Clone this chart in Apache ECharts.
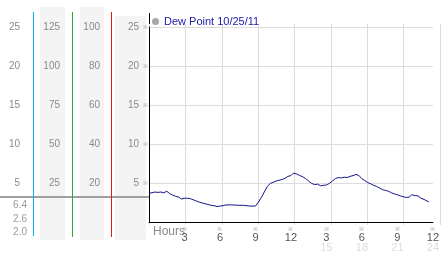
<!DOCTYPE html>
<html><head><meta charset="utf-8">
<script src="https://cdn.jsdelivr.net/npm/echarts@6/dist/echarts.min.js"></script>
<style>html,body{margin:0;padding:0;background:#fff}#c{width:442px;height:253px}</style>
</head><body><div id="c"></div>
<script>
// ---- data ----
const seriesName = 'Dew Point 10/25/11';
const hours = [0,0.25,0.5,0.75,1,1.25,1.5,1.75,2,2.25,2.5,2.75,2.85,3,3.25,3.5,3.75,4,4.25,4.5,4.75,5,5.25,5.5,5.75,6,6.1,6.25,6.5,7,7.5,8,8.5,9,9.25,9.5,9.75,10,10.25,10.5,10.75,11,11.25,11.5,11.75,11.9,12,12.2,12.5,12.75,13,13.25,13.4,13.5,13.75,13.9,14,14.25,14.5,14.75,15,15.25,15.5,15.75,16,16.25,16.5,16.75,17,17.25,17.5,17.75,18,18.25,18.5,18.75,19,19.25,19.5,19.75,20,20.25,20.5,20.75,21,21.25,21.5,21.75,22,22.2,22.5,22.75,23,23.25,23.5,23.65];
const dewPoint = [3.75,3.8,3.9,3.85,3.9,3.8,4.0,3.7,3.5,3.35,3.25,3.0,3.2,3.1,3.1,3.05,2.9,2.75,2.6,2.5,2.4,2.3,2.2,2.15,2.05,2.1,1.95,2.15,2.25,2.25,2.2,2.2,2.1,2.1,2.6,3.2,3.9,4.6,5.0,5.15,5.3,5.4,5.5,5.65,5.9,6.1,6.0,6.3,6.2,6.0,5.85,5.6,5.75,5.3,5.0,5.1,4.85,4.9,4.7,4.75,4.8,5.0,5.3,5.6,5.75,5.7,5.8,5.75,5.9,6.0,6.15,6.0,5.6,5.35,5.1,4.95,4.75,4.6,4.4,4.2,4.1,4.0,3.8,3.65,3.55,3.4,3.3,3.2,3.25,3.55,3.45,3.4,3.1,2.95,2.75,2.65];
const hourTopLabels = ['3','6','9','12','3','6','9','12'];
const hourLowLabels = ['15','18','21','24'];
const extraLeftLabels = ['6.4','2.6','2.0'];

const FONT = "'Liberation Sans', Arial, sans-serif";
const chart = echarts.init(document.getElementById('c'), null, {renderer:'canvas'});

const G = {left:149, right:2, top:27, bottom:28};

function colAxis(max, interval, offset, margin){
  return {
    type:'value', gridIndex:0, position:'left', offset:offset,
    min:0, max:max, interval:interval,
    axisLine:{show:false}, axisTick:{show:false}, splitLine:{show:false},
    axisLabel:{showMinLabel:false, margin:margin, color:'#8a8a8a', fontFamily:FONT, fontSize:10}
  };
}

const option = {
  animation:false,
  backgroundColor:'#fff',
  graphic:[
    {type:'rect', shape:{x:40,y:7,width:25,height:233}, style:{fill:'#f4f4f4'}, z:-10},
    {type:'rect', shape:{x:80,y:7,width:24,height:233}, style:{fill:'#f4f4f4'}, z:-10},
    {type:'rect', shape:{x:115,y:16,width:31,height:224}, style:{fill:'#f4f4f4'}, z:-10},
    {type:'rect', shape:{x:33,y:12,width:1,height:224}, style:{fill:'#00b8e6'}, z:5},
    {type:'rect', shape:{x:72,y:12,width:1,height:225}, style:{fill:'#2ea82e'}, z:5},
    {type:'rect', shape:{x:111,y:12,width:1,height:225}, style:{fill:'#e01818'}, z:5},
    {type:'rect', shape:{x:0,y:196,width:149,height:2}, style:{fill:'#a0a0a0'}, z:4},
    {type:'rect', shape:{x:149,y:13,width:1,height:14}, style:{fill:'#000'}},
    {type:'text', x:27, y:205, style:{text:extraLeftLabels[0], fill:'#9a9a9a', font:'10px '+FONT, align:'right', verticalAlign:'middle'}},
    {type:'text', x:27, y:219, style:{text:extraLeftLabels[1], fill:'#9a9a9a', font:'10px '+FONT, align:'right', verticalAlign:'middle'}},
    {type:'text', x:27, y:232, style:{text:extraLeftLabels[2], fill:'#9a9a9a', font:'10px '+FONT, align:'right', verticalAlign:'middle'}},
    {type:'text', x:153, y:232, style:{text:'Hours', fill:'#8a8a8a', font:'12px '+FONT, align:'left', verticalAlign:'middle'}}
  ],
  legend:{
    left:152, top:16, padding:0, itemWidth:7, itemHeight:7, icon:'circle',
    data:[{name:seriesName, itemStyle:{color:'#a8a8a8'}}],
    textStyle:{color:'#1a1aa8', fontFamily:FONT, fontSize:11}
  },
  grid:[
    {left:G.left, right:G.right, top:G.top, bottom:G.bottom},
    {left:G.left, right:G.right, top:24, bottom:G.bottom}
  ],
  xAxis:[
    {type:'value', gridIndex:0, min:0, max:24, interval:3,
     axisLine:{show:true, lineStyle:{color:'#000', width:1}},
     axisTick:{show:false}, splitLine:{show:false},
     axisLabel:{margin:4, fontFamily:FONT,
       formatter:function(v){
         if(v===0) return '';
         const i = Math.round(v/3);
         const low = v>=15 ? hourLowLabels[Math.round((v-15)/3)] : '';
         return '{m|※}\n{n|'+hourTopLabels[i-1]+'}\n{s|'+low+'}';
       },
       rich:{
         m:{fontSize:6, lineHeight:6, color:'#aaa', fontFamily:FONT},
         n:{fontSize:11, lineHeight:10, color:'#555', fontFamily:FONT},
         s:{fontSize:11, lineHeight:10, color:'#dcdcdc', fontFamily:FONT}
       }}
    },
    {type:'value', gridIndex:1, min:0, max:24, interval:3,
     axisLine:{show:false}, axisTick:{show:false}, axisLabel:{show:false},
     splitLine:{show:true, lineStyle:{color:'#dcdcdc', width:1}}}
  ],
  yAxis:[
    {type:'value', gridIndex:0, position:'left', min:0, max:25, interval:5,
     axisLine:{show:true, lineStyle:{color:'#000', width:1}},
     axisTick:{show:false},
     splitLine:{show:true, lineStyle:{color:'#dcdcdc', width:1}},
     axisLabel:{showMinLabel:false, margin:1, fontFamily:FONT,
       formatter:function(v){ return '{n|'+v+'}{m|※}'; },
       rich:{ n:{fontSize:10, color:'#8a8a8a', fontFamily:FONT},
              m:{fontSize:6, color:'#aaa', padding:[0,0,0,4], fontFamily:FONT} }}
    },
    colAxis(100, 20, 41, 8),
    colAxis(125, 25, 81, 8),
    colAxis(25, 5, 121, 8),
    {type:'value', gridIndex:1, min:0, max:25, show:false}
  ],
  series:[{
    name:seriesName, type:'line', xAxisIndex:0, yAxisIndex:0,
    data:hours.map((h,i)=>[h, dewPoint[i]]),
    showSymbol:false, symbol:'none',
    lineStyle:{color:'#14148c', width:1},
    itemStyle:{color:'#14148c'}
  }]
};
chart.setOption(option);
</script>
</body></html>
